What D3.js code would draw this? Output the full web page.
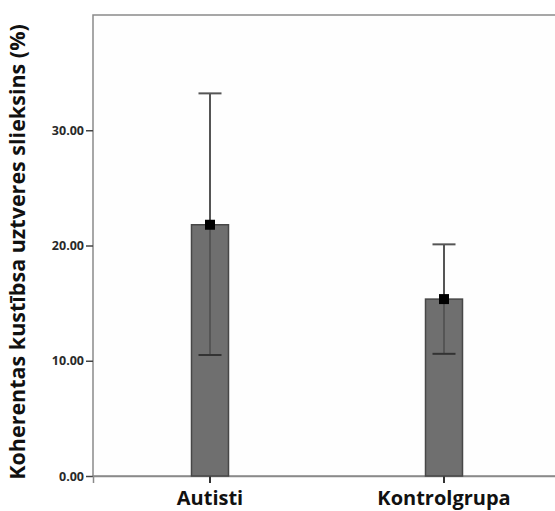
<!DOCTYPE html>
<html>
<head>
<meta charset="utf-8">
<script src="https://cdn.jsdelivr.net/npm/d3@7"></script>
<style>
  body { margin: 0; background: #fff; }
  svg { display: block; }
</style>
</head>
<body>
<div id="chart"></div>
<script>
const groups = ['Autisti', 'Kontrolgrupa'];
const means = [21.8, 15.35];
const upper = [33.2, 20.1];
const lower = [10.5, 10.6];
const yTicks = [0, 10, 20, 30];
const yLabel = 'Koherentas kustībsa uztveres slieksins (%)';

const W = 555, H = 511;
const margin = { top: 15, right: -6, bottom: 35, left: 93 };
const width = W - margin.left - margin.right;
const height = H - margin.top - margin.bottom;

const svg = d3.select('#chart').append('svg')
  .attr('width', W)
  .attr('height', H);

const g = svg.append('g')
  .attr('transform', 'translate(' + margin.left + ',' + margin.top + ')');

const x = d3.scaleBand()
  .domain(groups)
  .range([0, width]);

const y = d3.scaleLinear()
  .domain([0, 40])
  .range([height, 0]);

// plot frame
g.append('rect')
  .attr('x', 0).attr('y', 0)
  .attr('width', width).attr('height', height)
  .attr('fill', '#fefefe')
  .attr('stroke', '#8a8a8a')
  .attr('stroke-width', 1.5);

// y axis
g.append('g')
  .attr('class', 'axis')
  .call(d3.axisLeft(y)
    .tickValues(yTicks)
    .tickFormat(d3.format('.2f'))
    .tickSize(7)
    .tickPadding(2))
  .call(a => a.select('.domain').remove())
  .call(a => a.selectAll('.tick line').attr('stroke', '#444').attr('stroke-width', 1.5))
  .call(a => a.selectAll('.tick text')
    .attr('fill', '#2a2a2a')
    .style('font-family', '"Open Sans", sans-serif')
    .style('font-weight', 'bold')
    .style('font-size', '12.5px'));

// x axis
g.append('g')
  .attr('class', 'axis')
  .attr('transform', 'translate(0,' + height + ')')
  .call(d3.axisBottom(x).tickSize(7).tickPadding(8))
  .call(a => a.select('.domain').attr('stroke', '#8a8a8a').attr('stroke-width', 1.5))
  .call(a => a.selectAll('.tick line').attr('stroke', '#333').attr('stroke-width', 2))
  .call(a => a.selectAll('.tick text')
    .attr('fill', '#111')
    .style('font-family', '"Open Sans", sans-serif')
    .style('font-weight', 'bold')
    .style('font-size', '20px'));

const barW = 37;
const capW = 23;

const items = groups.map((name, i) => ({ name, mean: means[i], hi: upper[i], lo: lower[i] }));

// bars
g.selectAll('.bar')
  .data(items)
  .join('rect')
  .attr('class', 'bar')
  .attr('x', d => x(d.name) + x.bandwidth() / 2 - barW / 2)
  .attr('y', d => y(d.mean))
  .attr('width', barW)
  .attr('height', d => y(0) - y(d.mean))
  .attr('fill', '#6f6f6f')
  .attr('stroke', '#474747')
  .attr('stroke-width', 1.5);

// error bars
const err = g.selectAll('.err')
  .data(items)
  .join('g')
  .attr('class', 'err')
  .attr('transform', d => 'translate(' + (x(d.name) + x.bandwidth() / 2) + ',0)');

err.append('line')
  .attr('x1', 0).attr('x2', 0)
  .attr('y1', d => y(d.hi))
  .attr('y2', d => y(d.lo))
  .attr('stroke', '#555')
  .attr('stroke-width', 2);

err.append('line')
  .attr('x1', -capW / 2).attr('x2', capW / 2)
  .attr('y1', d => y(d.hi)).attr('y2', d => y(d.hi))
  .attr('stroke', '#555')
  .attr('stroke-width', 2);

err.append('line')
  .attr('x1', -capW / 2).attr('x2', capW / 2)
  .attr('y1', d => y(d.lo)).attr('y2', d => y(d.lo))
  .attr('stroke', '#333')
  .attr('stroke-width', 2);

// mean markers
err.append('rect')
  .attr('x', -5).attr('y', d => y(d.mean) - 5)
  .attr('width', 10).attr('height', 10)
  .attr('fill', '#000');

// y label
svg.append('text')
  .attr('transform', 'translate(25,252) rotate(-90)')
  .attr('text-anchor', 'middle')
  .attr('fill', '#111')
  .style('font-family', '"Open Sans", sans-serif')
  .style('font-weight', 'bold')
  .style('font-size', '21.5px')
  .text(yLabel);
</script>
</body>
</html>
